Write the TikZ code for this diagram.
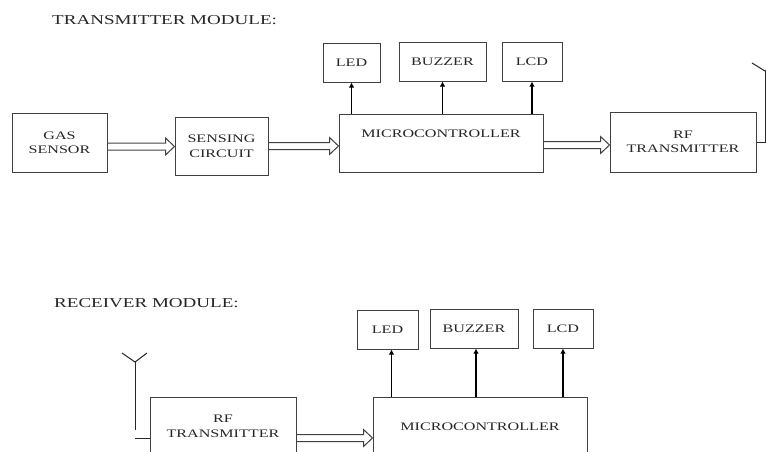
\documentclass[tikz,border=0pt]{standalone}
\usepackage{fontspec}
\setmainfont{Liberation Serif}[FakeStretch=1.4]
\usetikzlibrary{positioning, arrows.meta, calc}

\begin{document}
\begin{tikzpicture}[
    x=1pt, y=-1pt,
    >=Latex,
    blk/.style={rectangle, draw=black!75, line width=1pt,
                align=center, text=black!85, inner sep=0pt,
                font=\fontsize{11.5}{14.5}\selectfont},
    title/.style={anchor=west, text=black!85, inner sep=0pt,
                  font=\fontsize{13.6}{16}\selectfont},
    bus/.style={draw=black!75, line width=1pt, line join=miter,
                to path={let \p1=(\tikztostart), \p2=(\tikztotarget) in
                  (\x1,\y1+3.5pt) -- (\x2-9pt,\y1+3.5pt) -- (\x2-9pt,\y1+8.5pt)
                  -- (\x2,\y1) -- (\x2-9pt,\y1-8.5pt) -- (\x2-9pt,\y1-3.5pt)
                  -- (\x1,\y1-3.5pt)}},
    outarrow/.style={->, line width=1.8pt, >={Latex[length=5pt, width=5.5pt]}},
    antenna/.style={draw=black!85, line width=1pt}
]
  \useasboundingbox (0,0) rectangle (766,451);
  \clip (0,0) rectangle (766,451);

  % Transmitter module
  \node[title] (ttx) at (52,20) {TRANSMITTER MODULE:};

  \node[blk, minimum width=95pt, minimum height=59pt] (gas) at (59.5,142.5) {GAS\\SENSOR};
  \node[blk, minimum width=93pt, minimum height=58pt] (sense) at (221.5,146) {SENSING\\CIRCUIT};
  \node[blk, minimum width=204pt, minimum height=58pt] (micro) at (441,143) {MICROCONTROLLER\\[4pt]};
  \node[blk, minimum width=146pt, minimum height=60pt] (rft) at (683,142) {RF\\TRANSMITTER};

  \node[blk, minimum width=57pt, minimum height=39pt] (led) at (351.5,62.5) {LED};
  \node[blk, minimum width=87pt, minimum height=39pt] (buzz) at (442.5,61.5) {BUZZER};
  \node[blk, minimum width=60pt, minimum height=39pt] (lcd) at (532,61.5) {LCD};

  \draw[bus] ([yshift=-4pt]gas.east) to ([yshift=-4pt]gas.east -| sense.west);
  \draw[bus] (sense.east) to (sense.east -| micro.west);
  \draw[bus] ([yshift=-2pt]micro.east) to ([yshift=-2pt]micro.east -| rft.west);

  \draw[outarrow] (led.south |- micro.north) -- (led.south);
  \draw[outarrow] (buzz.south |- micro.north) -- (buzz.south);
  \draw[outarrow] (lcd.south |- micro.north) -- (lcd.south);

  % antenna (tx)
  \coordinate (anttx) at (765,71);
  \draw[antenna] (rft.east) -| (anttx);
  \draw[antenna] (anttx) -- ++(-13,-8);
  \draw[antenna] (anttx) -- ++(13,-8);

  % Receiver module
  \node[title] (trx) at (54,303) {RECEIVER MODULE:};

  \node[blk, minimum width=146pt, minimum height=59pt] (rfr) at (223,426.5) {RF\\TRANSMITTER};
  \node[blk, minimum width=214pt, minimum height=59pt] (micror) at (480,426.5) {MICROCONTROLLER};

  \node[blk, minimum width=61pt, minimum height=39pt] (ledr) at (387.5,329.5) {LED};
  \node[blk, minimum width=88pt, minimum height=39pt] (buzzr) at (474,328.5) {BUZZER};
  \node[blk, minimum width=60pt, minimum height=39pt] (lcdr) at (563,328.5) {LCD};

  \draw[bus] ([yshift=-11.5pt]rfr.east) to ([yshift=-11.5pt]rfr.east -| micror.west);

  \draw[outarrow] ([xshift=4pt]ledr.south |- micror.north) -- ([xshift=4pt]ledr.south);
  \draw[outarrow] ([xshift=2pt]buzzr.south |- micror.north) -- ([xshift=2pt]buzzr.south);
  \draw[outarrow] (lcdr.south |- micror.north) -- (lcdr.south);

  % antenna (rx)
  \coordinate (antrx) at (135,362);
  \draw[antenna] (antrx) -- ++(0,68);
  \draw[antenna] (antrx) -- ++(-13,-9);
  \draw[antenna] (antrx) -- ++(12,-9);
  \draw[antenna] ([yshift=-11.5pt]rfr.west) -- ++(-15,0);
\end{tikzpicture}
\end{document}
